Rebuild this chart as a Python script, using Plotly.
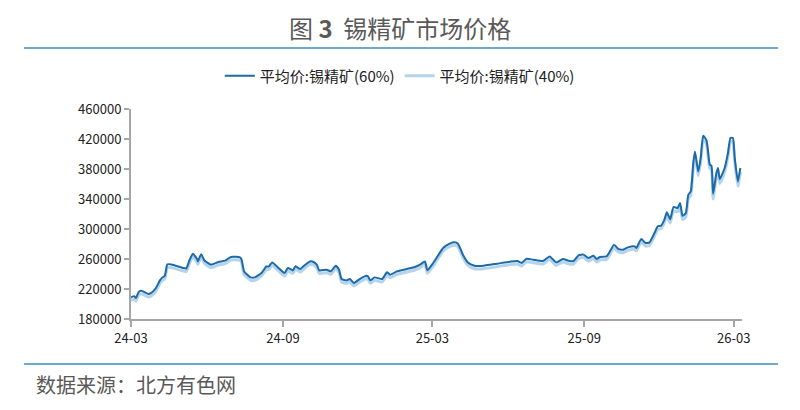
import plotly.graph_objects as go

# 锡精矿价格 (元/吨)，日期与数值从原图读取
dates = [
    "2024-03-01", "2024-03-05", "2024-03-07", "2024-03-10", "2024-03-13", "2024-03-18",
    "2024-03-22", "2024-03-25", "2024-03-31", "2024-04-05", "2024-04-08", "2024-04-11",
    "2024-04-14", "2024-04-19", "2024-05-03", "2024-05-07", "2024-05-11", "2024-05-15",
    "2024-05-20", "2024-05-21", "2024-05-25", "2024-05-29", "2024-06-06", "2024-06-15",
    "2024-06-23", "2024-06-30", "2024-07-11", "2024-07-13", "2024-07-16", "2024-07-24",
    "2024-07-29", "2024-08-06", "2024-08-12", "2024-08-15", "2024-08-19", "2024-08-26",
    "2024-09-03", "2024-09-07", "2024-09-13", "2024-09-16", "2024-09-22", "2024-09-28",
    "2024-10-04", "2024-10-08", "2024-10-12", "2024-10-15", "2024-10-24", "2024-10-29",
    "2024-11-04", "2024-11-08", "2024-11-11", "2024-11-17", "2024-11-21", "2024-11-26",
    "2024-12-03", "2024-12-11", "2024-12-13", "2024-12-16", "2024-12-21", "2024-12-30",
    "2025-01-05", "2025-01-09", "2025-01-17", "2025-01-29", "2025-02-08", "2025-02-14",
    "2025-02-20", "2025-02-23", "2025-03-02", "2025-03-06", "2025-03-14", "2025-03-22",
    "2025-03-28", "2025-04-01", "2025-04-07", "2025-04-13", "2025-04-21", "2025-05-02",
    "2025-05-18", "2025-06-03", "2025-06-12", "2025-06-17", "2025-06-23", "2025-07-01",
    "2025-07-13", "2025-07-21", "2025-07-29", "2025-08-06", "2025-08-14", "2025-08-19",
    "2025-08-25", "2025-08-31", "2025-09-06", "2025-09-12", "2025-09-16", "2025-09-20",
    "2025-09-28", "2025-10-02", "2025-10-07", "2025-10-12", "2025-10-18", "2025-10-24",
    "2025-11-01", "2025-11-03", "2025-11-09", "2025-11-14", "2025-11-19", "2025-11-25",
    "2025-11-29", "2025-12-03", "2025-12-07", "2025-12-10", "2025-12-14", "2025-12-18",
    "2025-12-23", "2025-12-26", "2025-12-29", "2026-01-02", "2026-01-05", "2026-01-08",
    "2026-01-11", "2026-01-13", "2026-01-17", "2026-01-20", "2026-01-23", "2026-01-27",
    "2026-01-31", "2026-02-02", "2026-02-04", "2026-02-08", "2026-02-10", "2026-02-12",
    "2026-02-18", "2026-02-22", "2026-02-25", "2026-02-28", "2026-03-02", "2026-03-06",
    "2026-03-09",
]

price_60 = [
    209000, 210500, 208000, 215500, 217700, 215500,
    213500, 214500, 221000, 231500, 235500, 237700,
    252800, 252800, 248000, 247500, 259000, 267000,
    260000, 257000, 266500, 258000, 252400, 256000,
    257800, 262700, 262200, 259000, 243500, 235500,
    235500, 241300, 250000, 250200, 255500, 248800,
    241300, 248000, 244800, 250200, 246700, 252400,
    256800, 256000, 252400, 244800, 245700, 243500,
    251100, 245700, 233300, 231500, 233300, 228000,
    233300, 237700, 236800, 231500, 235500, 233300,
    242200, 239100, 243500, 246700, 249300, 252400,
    256800, 245000, 254700, 261300, 274700, 280400,
    282200, 280400, 265800, 255500, 251100, 251100,
    253700, 256400, 257300, 254700, 260400, 259100,
    257300, 263500, 255500, 260000, 257300, 257300,
    264900, 265800, 261300, 264400, 260000, 262700,
    263500, 270200, 279100, 273400, 272400, 275500,
    276800, 274700, 286700, 281300, 282200, 294700,
    303600, 304400, 312400, 322200, 313000, 329300,
    328000, 334700, 317700, 321300, 345700, 350200,
    388000, 403500, 376800, 394700, 424400, 418200,
    385700, 384400, 347000, 374700, 381300, 366700,
    381300, 401300, 421300, 421300, 396800, 363500,
    381300,
]

price_40 = [
    205000, 206500, 204000, 211500, 213500, 211500,
    209500, 210500, 217000, 227500, 231500, 233500,
    248500, 248500, 244000, 243500, 255000, 263000,
    256000, 253000, 262500, 254000, 248400, 252000,
    253800, 258700, 258200, 255000, 239500, 231500,
    231500, 237300, 246000, 246200, 251500, 244800,
    237300, 244000, 240800, 246200, 242700, 248400,
    252800, 252000, 248400, 240800, 241700, 239500,
    247100, 241700, 229300, 227500, 229300, 224000,
    229300, 233700, 232800, 227500, 231500, 229300,
    238200, 235100, 239500, 242700, 245300, 248400,
    252800, 241000, 250700, 257300, 270700, 276400,
    278200, 276400, 261800, 251500, 247100, 247100,
    249700, 252400, 253300, 250700, 256400, 255100,
    253300, 259500, 251500, 256000, 253300, 253300,
    260900, 261800, 257300, 260400, 256000, 258700,
    259500, 266200, 275100, 269400, 268400, 271500,
    272800, 270700, 282700, 277300, 278200, 290700,
    299600, 300400, 308400, 317200, 308000, 324300,
    323000, 329700, 312700, 316300, 340700, 345200,
    382000, 398500, 371000, 389700, 419400, 413200,
    380700, 379400, 340000, 369700, 376300, 360700,
    376300, 396300, 416300, 416300, 391800, 357000,
    376300,
]

tick_vals = ["2024-03-01", "2024-09-01", "2025-03-01", "2025-09-01", "2026-03-01"]
tick_text = ["24-03", "24-09", "25-03", "25-09", "26-03"]

FONT = "Noto Sans CJK SC"
RULE = "#3b8dc0"

fig = go.Figure()
fig.add_trace(go.Scatter(x=dates, y=price_40, mode="lines", name="平均价:锡精矿(40%)",
                         line=dict(color="#b4d3ec", width=3, shape="spline", smoothing=0.5),
                         legendrank=2))
fig.add_trace(go.Scatter(x=dates, y=price_60, mode="lines", name="平均价:锡精矿(60%)",
                         line=dict(color="#1d6aa8", width=2, shape="spline", smoothing=0.5),
                         legendrank=1))

# the page body adds 8px of margin, so the layout is shifted up/left by 8px
fig.update_layout(
    width=800, height=410,
    margin=dict(l=123, r=66, t=101, b=99, autoexpand=False),
    paper_bgcolor="white", plot_bgcolor="white",
    font=dict(family=FONT, size=13, color="#222222"),
    showlegend=True,
    legend=dict(orientation="h", x=0.44, xanchor="center", y=1.157, yanchor="middle",
                font=dict(size=15, color="#222222"), itemwidth=30),
    xaxis=dict(type="date", range=["2024-03-01", "2026-03-11"],
               tickvals=tick_vals, ticktext=tick_text,
               showgrid=False, zeroline=False,
               showline=True, linecolor="#a6a6a6", linewidth=2,
               ticks="outside", ticklen=6, tickwidth=2, tickcolor="#a6a6a6",
               tickfont=dict(size=13, color="#222222")),
    yaxis=dict(range=[180000, 460000], tick0=180000, dtick=40000, tickformat="d",
               showgrid=False, zeroline=False,
               showline=True, linecolor="#a6a6a6", linewidth=2,
               ticks="outside", ticklen=5, tickwidth=2, tickcolor="#a6a6a6",
               tickfont=dict(size=13, color="#222222")),
    shapes=[
        dict(type="line", xref="paper", yref="paper", x0=-0.175, x1=1.059,
             y0=1.2905, y1=1.2905, line=dict(color=RULE, width=1.5)),
        dict(type="line", xref="paper", yref="paper", x0=-0.175, x1=1.059,
             y0=-0.2143, y1=-0.2143, line=dict(color=RULE, width=1.5)),
    ],
    annotations=[
        dict(text="图 <b>3</b>  锡精矿市场价格", xref="paper", yref="paper",
             x=0.44, y=1.39, xanchor="center", yanchor="middle", showarrow=False,
             font=dict(size=24, color="#595959", family=FONT)),
        dict(text="数据来源：北方有色网", xref="paper", yref="paper",
             x=-0.159, y=-0.314, xanchor="left", yanchor="middle", showarrow=False,
             font=dict(size=20, color="#595959", family=FONT)),
    ],
)

fig.write_html("out.html")
